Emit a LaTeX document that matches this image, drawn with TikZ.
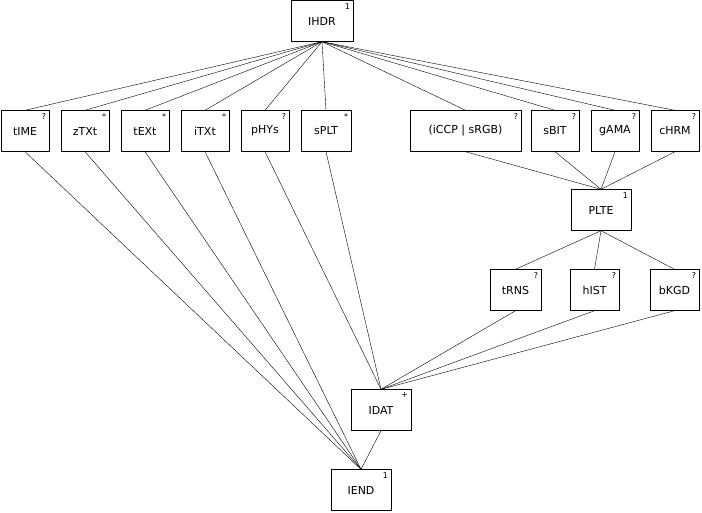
\documentclass[tikz,border=0pt]{standalone}
\usepackage{fontspec}
\setmainfont{DejaVu Sans}
\begin{document}
\begin{tikzpicture}[x=1pt,y=-1pt,font=\fontsize{11}{13}\selectfont,
  chunk/.style={draw,thin,minimum height=41pt,inner sep=2pt},
  sup/.style={label={[anchor=north east,inner sep=3pt,font=\fontsize{8}{9}\selectfont]north east:#1}}]
\useasboundingbox (0,0) rectangle (702,512);
\node[chunk,sup=1,minimum width=62pt] (ihdr) at (322,21) {IHDR};
\node[chunk,sup=?,minimum width=48pt] (time) at (25,131) {tIME};
\node[chunk,sup=*,minimum width=48pt] (ztxt) at (85,131) {zTXt};
\node[chunk,sup=*,minimum width=48pt] (text) at (145,131) {tEXt};
\node[chunk,sup=*,minimum width=48pt] (itxt) at (205,131) {iTXt};
\node[chunk,sup=?,minimum width=48pt] (phys) at (265,131) {pHYs};
\node[chunk,sup=*,minimum width=50pt] (splt) at (326,131) {sPLT};
\node[chunk,sup=?,minimum width=111pt] (iccp) at (465.5,131) {(iCCP | sRGB)};
\node[chunk,sup=?,minimum width=48pt] (sbit) at (555,131) {sBIT};
\node[chunk,sup=?,minimum width=48pt] (gama) at (615,131) {gAMA};
\node[chunk,sup=?,minimum width=48pt] (chrm) at (675,131) {cHRM};
\node[chunk,sup=1,minimum width=60pt] (plte) at (601,210) {PLTE};
\node[chunk,sup=?,minimum width=51pt] (trns) at (515.5,290) {tRNS};
\node[chunk,sup=?,minimum width=49pt] (hist) at (594.5,290) {hIST};
\node[chunk,sup=?,minimum width=49pt] (bkgd) at (674.5,290) {bKGD};
\node[chunk,sup=+,minimum width=60pt] (idat) at (381,410) {IDAT};
\node[chunk,sup=1,minimum width=60pt] (iend) at (361,490) {IEND};
% edges
\foreach \n in {time,ztxt,text,itxt,phys,splt,iccp,sbit,gama,chrm}
  \draw[thin] (ihdr.south) -- (\n.north);
\foreach \n in {time,ztxt,text,itxt}
  \draw[thin] (\n.south) -- (iend.north);
\foreach \n in {phys,splt,trns,hist,bkgd}
  \draw[thin] (\n.south) -- (idat.north);
\foreach \n in {iccp,sbit,gama,chrm}
  \draw[thin] (\n.south) -- (plte.north);
\foreach \n in {trns,hist,bkgd}
  \draw[thin] (plte.south) -- (\n.north);
\draw[thin] (idat.south) -- (iend.north);
\end{tikzpicture}
\end{document}
